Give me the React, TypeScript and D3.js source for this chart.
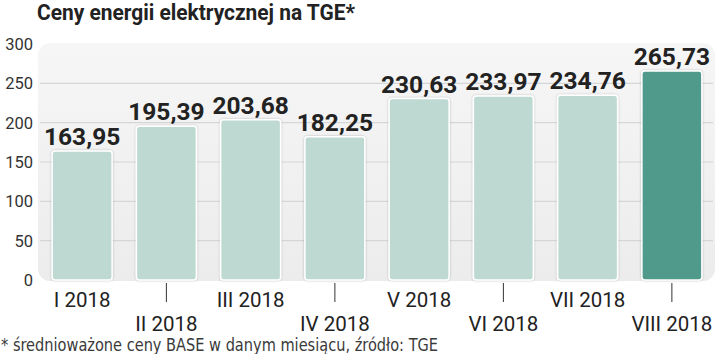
import React from "react";
import * as d3 from "d3";

const months = ["I 2018", "II 2018", "III 2018", "IV 2018", "V 2018", "VI 2018", "VII 2018", "VIII 2018"];
const prices = [163.95, 195.39, 203.68, 182.25, 230.63, 233.97, 234.76, 265.73];
const yTicks = [0, 50, 100, 150, 200, 250, 300];
const highlight = ["VIII 2018"];

const title = "Ceny energii elektrycznej na TGE*";
const footnote = "* średnioważone ceny BASE w danym miesiącu, źródło: TGE";

const W = 720;
const H = 354;

export default function App() {
  const x = d3.scaleBand<string>().domain(months).range([40, 714]).paddingInner(0.288).paddingOuter(0.144);
  const y = d3.scaleLinear().domain([0, 300]).range([280, 44]);
  const fmt = (v: number) => v.toFixed(2).replace(".", ",");

  return (
    <svg width={W} height={H} style={{ position: "absolute", left: 0, top: 0, background: "#fff" }}>
      <defs>
        <linearGradient id="bg" x1="0" y1="0" x2="0" y2="1">
          <stop offset="0" stopColor="#f6f6f6" />
          <stop offset="1" stopColor="#ececec" />
        </linearGradient>
        <filter id="sh" x="-10%" y="-10%" width="120%" height="120%">
          <feDropShadow dx="0" dy="0" stdDeviation="1.2" floodColor="#000" floodOpacity="0.25" />
        </filter>
      </defs>
      <text x={37} y={20} fontFamily="'Liberation Sans Narrow', Roboto, sans-serif" fontWeight={700} fontSize={22.5}
        fill="#222" textLength={318} lengthAdjust="spacingAndGlyphs">{title}</text>

      <rect x={38} y={43} width={677} height={238} rx={12} fill="url(#bg)" />

      {yTicks.filter(t => t > 0 && t < 300).map(t => (
        <line key={t} x1={40} x2={713} y1={y(t)} y2={y(t)} stroke="#d6d6d6" strokeWidth={1.2} />
      ))}
      {yTicks.map(t => (
        <text key={t} x={33} y={y(t) + 6} textAnchor="end" fontFamily="Roboto, sans-serif" fontSize={16.5} fill="#333">{t}</text>
      ))}

      {months.map((m, i) => {
        const v = prices[i];
        const bx = x(m)!;
        const bw = x.bandwidth();
        const cx = bx + bw / 2;
        const hi = highlight.includes(m);
        return (
          <g key={m}>
            <rect x={bx} y={y(v)} width={bw} height={y(0) - y(v)} rx={3}
              fill={hi ? "#4f9a8a" : "#bed9d1"} stroke="#fff" strokeWidth={1.5} filter="url(#sh)" />
            <text x={cx} y={y(v) - 6} textAnchor="middle" fontFamily="Roboto, sans-serif" fontWeight={700}
              fontSize={24.5} fill="#222">{fmt(v)}</text>
            {i % 2 === 1 && <line x1={cx} x2={cx} y1={283} y2={302} stroke="#333" strokeWidth={1} />}
            <text x={cx} y={i % 2 === 0 ? 307 : 331} textAnchor="middle" fontFamily="Roboto, sans-serif"
              fontSize={20.5} fill="#222">{m}</text>
          </g>
        );
      })}

      <text x={1} y={351} fontFamily="'Liberation Sans Narrow', 'DejaVu Sans Condensed', sans-serif" fontSize={17.5}
        fill="#3a3a3a" textLength={437} lengthAdjust="spacingAndGlyphs">{footnote}</text>
    </svg>
  );
}
